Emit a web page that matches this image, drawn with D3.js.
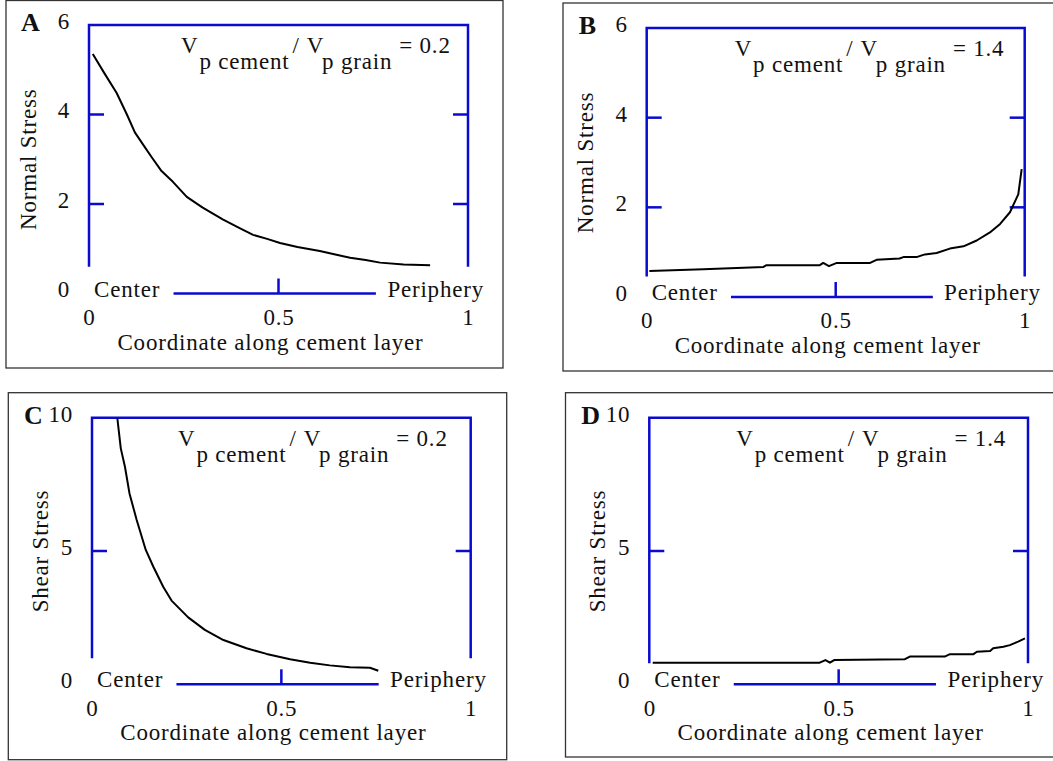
<!DOCTYPE html>
<html>
<head>
<meta charset="utf-8">
<script src="https://cdn.jsdelivr.net/npm/d3@7"></script>
<style>
  body { margin: 0; background: #fff; }
  text { font-family: "Liberation Serif", "Times New Roman", serif; font-size: 23px; letter-spacing: 0.8px; fill: #111; }
</style>
</head>
<body>
<svg id="chart" width="1053" height="761"></svg>
<script>
// Data
const xTicks = [0, 0.5, 1];
const xTickLabels = ["0", "0.5", "1"];
const normalTicks = [0, 2, 4, 6];
const shearTicks = [0, 5, 10];
const panelLetters = ["A", "B", "C", "D"];
const yTitles = ["Normal Stress", "Normal Stress", "Shear Stress", "Shear Stress"];
const ratios = ["0.2", "1.4", "0.2", "1.4"];
const xTitle = "Coordinate along cement layer";

// normal stress, Vp ratio 0.2
const normalA = [[0.01, 5.35], [0.04, 4.93], [0.073, 4.48], [0.10, 4.0], [0.121, 3.6], [0.145, 3.3],
  [0.165, 3.05], [0.19, 2.75], [0.222, 2.49], [0.258, 2.16], [0.30, 1.92], [0.354, 1.65],
  [0.40, 1.45], [0.433, 1.31], [0.47, 1.22], [0.504, 1.13], [0.55, 1.04], [0.609, 0.95],
  [0.65, 0.87], [0.689, 0.80], [0.73, 0.75], [0.768, 0.69], [0.83, 0.65], [0.90, 0.63]];
// normal stress, Vp ratio 1.4
const normalB = [[0.007, 0.58], [0.15, 0.62], [0.309, 0.67], [0.317, 0.71], [0.458, 0.71], [0.467, 0.76],
  [0.482, 0.69], [0.503, 0.76], [0.591, 0.76], [0.608, 0.83], [0.669, 0.86], [0.679, 0.89],
  [0.714, 0.89], [0.736, 0.95], [0.767, 0.98], [0.802, 1.08], [0.838, 1.13], [0.873, 1.26],
  [0.908, 1.44], [0.935, 1.63], [0.961, 1.89], [0.983, 2.29], [0.992, 2.85]];
// shear stress, Vp ratio 0.2
const shearC = [[0.067, 9.97], [0.076, 8.85], [0.087, 8.16], [0.099, 7.16], [0.118, 6.16], [0.142, 5.04],
  [0.162, 4.41], [0.188, 3.66], [0.21, 3.14], [0.254, 2.51], [0.298, 2.04], [0.347, 1.66],
  [0.408, 1.35], [0.461, 1.14], [0.523, 0.94], [0.576, 0.81], [0.628, 0.71], [0.681, 0.64],
  [0.734, 0.62], [0.756, 0.51]];
// shear stress, Vp ratio 1.4
const shearD = [[0.009, 0.81], [0.45, 0.81], [0.465, 0.91], [0.477, 0.81], [0.488, 0.91], [0.675, 0.94],
  [0.688, 1.04], [0.78, 1.04], [0.794, 1.13], [0.856, 1.13], [0.865, 1.22], [0.90, 1.25],
  [0.908, 1.35], [0.935, 1.41], [0.952, 1.47], [0.974, 1.60], [0.992, 1.72]];

const axisSpan = [0.223, 0.757];

// Layout
const panels = [
  { box: [6, 0.5, 497, 367.5], left: 89, right: 468, top: 25, bottom: 293.5, max: 6, ticks: normalTicks, data: normalA, sideEnd: 0.6, titleGap: 53, insetDx: 92 },
  { box: [563, 3, 520, 368], left: 646.7, right: 1024.7, top: 28, bottom: 297, max: 6, ticks: normalTicks, data: normalB, sideEnd: 0.46, titleGap: 54, insetDx: 88 },
  { box: [8.3, 392.7, 498.4, 367], left: 92, right: 470.7, top: 417.7, bottom: 684.3, max: 10, ticks: shearTicks, data: shearC, sideEnd: 0.98, titleGap: 44, insetDx: 86 },
  { box: [565.5, 392.7, 520, 364.3], left: 649.3, right: 1028, top: 417.7, bottom: 684.3, max: 10, ticks: shearTicks, data: shearD, sideEnd: 0.79, titleGap: 44, insetDx: 87 }
];

const blue = "#0b0bcf";
const svg = d3.select("#chart");

panels.forEach((p, i) => {
  const g = svg.append("g");

  g.append("rect")
    .attr("x", p.box[0]).attr("y", p.box[1])
    .attr("width", p.box[2]).attr("height", p.box[3])
    .style("fill", "none").style("stroke", "#333").style("stroke-width", 1.3);

  const x = d3.scaleLinear().domain([0, 1]).range([p.left, p.right]);
  const y = d3.scaleLinear().domain([0, p.max]).range([p.bottom, p.top]);

  // frame: two sides + top
  g.append("path")
    .attr("d", `M${p.left},${y(p.sideEnd)}V${y(p.max)}H${p.right}V${y(p.sideEnd)}`)
    .style("fill", "none").style("stroke", blue).style("stroke-width", 2.5);

  // inner y ticks on both sides
  const inner = p.ticks.filter(t => t > 0 && t < p.max);
  g.selectAll(".tl").data(inner).enter().append("line")
    .attr("x1", p.left).attr("x2", p.left + 15)
    .attr("y1", d => y(d)).attr("y2", d => y(d))
    .style("stroke", blue).style("stroke-width", 2.5);
  g.selectAll(".tr").data(inner).enter().append("line")
    .attr("x1", p.right - 15).attr("x2", p.right)
    .attr("y1", d => y(d)).attr("y2", d => y(d))
    .style("stroke", blue).style("stroke-width", 2.5);

  // short x axis segment with mid tick
  g.append("line")
    .attr("x1", x(axisSpan[0])).attr("x2", x(axisSpan[1]))
    .attr("y1", y(0)).attr("y2", y(0))
    .style("stroke", blue).style("stroke-width", 2.5);
  g.append("line")
    .attr("x1", x(0.5)).attr("x2", x(0.5))
    .attr("y1", y(0)).attr("y2", y(0) - 15)
    .style("stroke", blue).style("stroke-width", 2.5);

  // tick labels
  const ya = g.append("g").attr("transform", `translate(${p.left},0)`)
    .call(d3.axisLeft(y).tickValues(p.ticks).tickFormat(d3.format("d")).tickSize(0).tickPadding(19));
  ya.select(".domain").remove();
  ya.selectAll("text").attr("dy", "0.15em");

  const xa = g.append("g").attr("transform", `translate(0,${p.bottom})`)
    .call(d3.axisBottom(x).tickValues(xTicks).tickFormat((d, k) => xTickLabels[k]).tickSize(0).tickPadding(15));
  xa.select(".domain").remove();

  // curve
  g.append("path").datum(p.data)
    .attr("d", d3.line().x(d => x(d[0])).y(d => y(d[1])))
    .style("fill", "none").style("stroke", "#000").style("stroke-width", 2)
    .style("stroke-linejoin", "round");

  // panel letter
  g.append("text")
    .attr("x", p.left - 68).attr("y", p.top + 6)
    .style("font-size", "26px").style("font-weight", "bold").style("letter-spacing", "0px")
    .text(panelLetters[i]);

  // inset ratio label
  const t = g.append("text").attr("x", p.left + p.insetDx).attr("y", p.top + 28);
  t.append("tspan").text("V");
  t.append("tspan").attr("dx", 1).attr("dy", 16).text("p cement");
  t.append("tspan").attr("dx", 3).attr("dy", -16).text("/");
  t.append("tspan").attr("dx", 7).text("V");
  t.append("tspan").attr("dx", -2).attr("dy", 16).text("p grain");
  t.append("tspan").attr("dx", 7).attr("dy", -16).text("= " + ratios[i]);

  // Center / Periphery
  g.append("text").attr("x", p.left + 5).attr("y", y(0) + 3).text("Center");
  g.append("text").attr("x", p.right + 16).attr("y", y(0) + 3)
    .attr("text-anchor", "end").text("Periphery");

  // axis titles
  g.append("text")
    .attr("x", (p.left + p.right) / 2 - 8).attr("y", p.bottom + 56)
    .attr("text-anchor", "middle").text(xTitle);
  g.append("text")
    .attr("transform", `translate(${p.left - p.titleGap},${(p.top + p.bottom) / 2}) rotate(-90)`)
    .attr("text-anchor", "middle").text(yTitles[i]);
});
</script>
</body>
</html>
